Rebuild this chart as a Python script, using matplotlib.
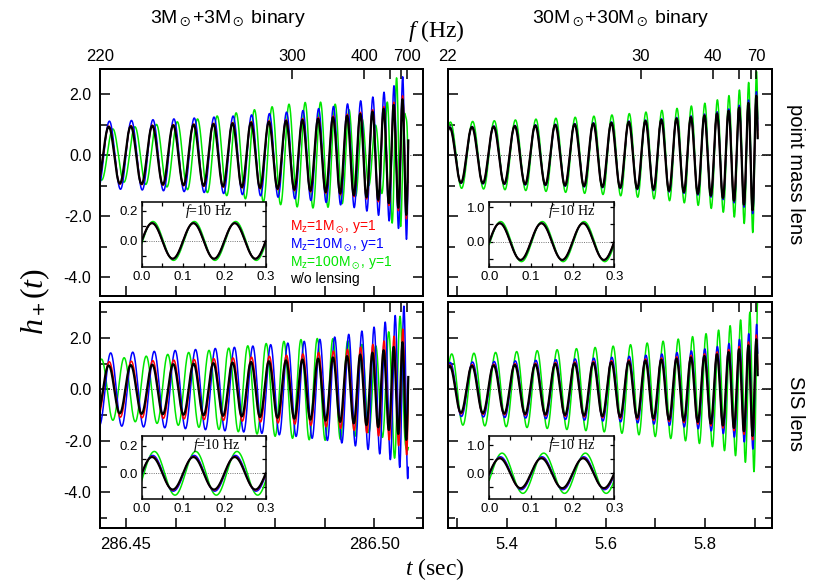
import math
import numpy as np
import matplotlib
matplotlib.use("Agg")
import matplotlib.pyplot as plt
from matplotlib.ticker import FixedLocator, MultipleLocator, NullFormatter, FormatStrFormatter, FixedFormatter

plt.rcParams.update({
    "font.family": ["Liberation Sans", "DejaVu Sans"],
    "mathtext.fontset": "custom",
    "mathtext.rm": "Liberation Sans",
    "mathtext.sf": "Liberation Sans",
    "mathtext.it": "Liberation Serif:italic",
    "mathtext.fallback": "stix",
    "axes.unicode_minus": True,
})

# ------------------------------------------------------------------ data
binary_titles = ["3M$_\\odot$+3M$_\\odot$ binary", "30M$_\\odot$+30M$_\\odot$ binary"]
lens_models = ["point mass", "SIS"]
lens_labels = ["point mass lens", "SIS lens"]
lens_masses = [1.0, 10.0, 100.0]          # redshifted lens mass M_z [Msun]
source_y = 1.0
series_colors = ["#ff0000", "#0000ff", "#00e600"]
legend_labels = ["M$_\\mathsf{z}$=1M$_\\odot$, y=1", "M$_\\mathsf{z}$=10M$_\\odot$, y=1",
                 "M$_\\mathsf{z}$=100M$_\\odot$, y=1", "w/o lensing"]
legend_colors = ["#ff0000", "#0000ff", "#00e600", "#000000"]

# chirp of each binary: GW frequency at the left edge, last frequency (ISCO),
# times of left edge / coalescence / right edge
f_left = [220.0, 22.0]
f_last = [733.0, 73.3]
t_left = [286.4447, 5.2810]
t_coal = [286.5086, 5.9236]
t_right = [286.5099, 5.9357]
amp_left = [0.92, 0.90]
phase_left_cycles = [0.60, 0.91]

freq_ticks = [[220, 300, 400, 500, 600, 700], [22, 30, 40, 50, 60, 70]]
freq_ticklabels = [["220", "300", "400", "", "", "700"], ["22", "30", "40", "", "", "70"]]
time_ticks = [[286.45, 286.46, 286.47, 286.48, 286.49, 286.50], [5.3, 5.4, 5.5, 5.6, 5.7, 5.8, 5.9]]
time_ticklabels = [["286.45", "", "", "", "", "286.50"], ["", "5.4", "", "5.6", "", "5.8", ""]]
main_ylims = [(-4.62, 2.81), (-5.39, 3.40)]

inset_freq = 10.0
inset_xlim = (0.0, 0.3)
inset_ylims = [[(-0.17, 0.259), (-0.73, 1.16)], [(-0.186, 0.272), (-0.92, 1.34)]]
inset_ymajor = [0.2, 1.0]
inset_yminor = [0.1, 0.5]

TSUN = 4.925491e-6  # G Msun / c^3 [s]

# ------------------------------------------------------------------ physics helpers
def cgamma(z):
    p = [0.99999999999980993, 676.5203681218851, -1259.1392167224028,
         771.32342877765313, -176.61502916214059, 12.507343278686905,
         -0.13857109526572012, 9.9843695780195716e-6, 1.5056327351493116e-7]
    z = np.asarray(z, dtype=complex) - 1
    x = p[0] + sum(p[i] / (z + i) for i in range(1, 9))
    t = z + 7.5
    return np.sqrt(2 * np.pi) * np.exp((z + 0.5) * np.log(t) - t) * x


def kummer1(a, z, nterms=180):
    a = np.asarray(a, complex)
    z = np.asarray(z, complex)
    term = np.ones(np.broadcast(a, z).shape, complex)
    s = term.copy()
    for k in range(nterms):
        term = term * (a + k) * z / ((k + 1) ** 2)
        s = s + term
    return s


def amplification(model, w, y):
    w = np.atleast_1d(np.asarray(w, float))
    if model == "point mass":
        return (np.exp(np.pi * w / 4 + 0.5j * w * np.log(w / 2)) * cgamma(1 - 0.5j * w)
                * kummer1(0.5j * w, 0.5j * w * y * y))
    z = -0.5j * w * y * y
    total = np.zeros(w.shape, complex)
    for n in range(110):
        logc = math.lgamma(1 + n / 2) - math.lgamma(n + 1)
        coef = np.exp(logc + 0.5 * n * np.log(2 * w)) * np.exp(-0.25j * np.pi * n)
        total = total + coef * kummer1(1 + n / 2, z)
    return np.exp(0.5j * w * y * y) * total


def f_of_t(t, c):
    r = (t_coal[c] - t) / (t_coal[c] - t_left[c])
    return f_left[c] * r ** (-1.0 / 3.0)


def t_of_f(f, c):
    return t_coal[c] - (t_coal[c] - t_left[c]) * (np.asarray(f, float) / f_left[c]) ** -3.0


def cycles(t, c):
    ct = t_coal[c] - t_left[c]
    r = (t_coal[c] - t) / ct
    return 1.5 * f_left[c] * ct * (1 - r ** (2.0 / 3.0))


# ------------------------------------------------------------------ layout
W, H = 830, 581
fig = plt.figure(figsize=(W / 100, H / 100), dpi=100)


def px_rect(x0, y0, x1, y1):
    return [x0 / W, 1 - y1 / H, (x1 - x0) / W, (y1 - y0) / H]


main_boxes = {(0, 0): (99.7, 69.3, 423.3, 296.0), (0, 1): (447.7, 69.3, 772.3, 296.0),
              (1, 0): (99.7, 301.7, 423.3, 528.3), (1, 1): (447.7, 301.7, 772.3, 528.3)}
inset_boxes = {(0, 0): (141.7, 201.7, 265.7, 266.7), (0, 1): (489.3, 201.7, 614.3, 266.7),
               (1, 0): (141.7, 435.7, 265.7, 499.0), (1, 1): (489.3, 435.7, 614.3, 499.0)}
inset_label_x = {(0, 0): 0.54, (0, 1): 0.66, (1, 0): 0.60, (1, 1): 0.66}

for r, model in enumerate(lens_models):
    for c in range(2):
        ax = fig.add_axes(px_rect(*main_boxes[(r, c)]))
        t = np.linspace(t_left[c], float(t_of_f(f_last[c], c)), 4000)
        f = f_of_t(t, c)
        A = amp_left[c] * (f / f_left[c]) ** (2.0 / 3.0)
        theta = 2 * np.pi * (cycles(t, c) + phase_left_cycles[c])
        for M, col in list(zip(lens_masses, series_colors))[::-1]:
            F = amplification(model, 8 * np.pi * M * TSUN * f, source_y)
            ax.plot(t, A * np.real(F * np.exp(1j * theta)), color=col, lw=1.1, zorder=2)
        ax.plot(t, A * np.cos(theta), color="k", lw=1.6, zorder=3)
        ax.axhline(0, color="#666666", lw=0.7, ls=(0, (1.2, 1.5)), zorder=1)

        ax.set_xlim(t_left[c], t_right[c])
        ax.set_ylim(*main_ylims[r])
        ax.xaxis.set_major_locator(FixedLocator(time_ticks[c]))
        if r == 1:
            ax.xaxis.set_major_formatter(FixedFormatter(time_ticklabels[c]))
        else:
            ax.xaxis.set_major_formatter(NullFormatter())
        ax.yaxis.set_major_locator(MultipleLocator(2.0))
        ax.yaxis.set_minor_locator(MultipleLocator(1.0))
        if c == 0:
            ax.yaxis.set_major_formatter(FormatStrFormatter("%.1f"))
        else:
            ax.yaxis.set_major_formatter(NullFormatter())
        ax.tick_params(axis="x", which="both", direction="in", top=False, bottom=True,
                       length=7.2, width=1.1, labelsize=12, pad=6)
        ax.tick_params(axis="y", which="major", direction="in", left=True, right=True,
                       length=7.2, width=1.1, labelsize=11.5, pad=6)
        ax.tick_params(axis="y", which="minor", direction="in", left=True, right=True,
                       length=4.8, width=1.1)
        for s in ax.spines.values():
            s.set_linewidth(1.4)

        tw = ax.twiny()
        tw.set_xlim(t_left[c], t_right[c])
        tw.xaxis.set_major_locator(FixedLocator(t_of_f(freq_ticks[c], c)))
        if r == 0:
            tw.xaxis.set_major_formatter(FixedFormatter(freq_ticklabels[c]))
        else:
            tw.xaxis.set_major_formatter(NullFormatter())
        tw.tick_params(axis="x", direction="in", length=7.2, width=1.1, labelsize=12, pad=4)
        for s in tw.spines.values():
            s.set_linewidth(1.4)

        # inset: monochromatic f = 10 Hz
        axi = fig.add_axes(px_rect(*inset_boxes[(r, c)]))
        axi.set_zorder(5)
        ti = np.linspace(inset_xlim[0], inset_xlim[1], 600)
        A10 = amp_left[c] * (inset_freq / f_left[c]) ** (2.0 / 3.0)
        th10 = 2 * np.pi * inset_freq * ti - np.pi / 2
        for M, col in list(zip(lens_masses, series_colors))[::-1]:
            F10 = amplification(model, 8 * np.pi * M * TSUN * inset_freq, source_y)[0]
            axi.plot(ti, A10 * np.real(F10 * np.exp(1j * th10)), color=col, lw=1.1)
        axi.plot(ti, A10 * np.cos(th10), color="k", lw=1.5)
        axi.axhline(0, color="#666666", lw=0.6, ls=(0, (1.2, 1.5)), zorder=0.5)
        axi.set_xlim(*inset_xlim)
        axi.set_ylim(*inset_ylims[r][c])
        axi.xaxis.set_major_locator(MultipleLocator(0.1))
        axi.xaxis.set_minor_locator(MultipleLocator(0.05))
        axi.xaxis.set_major_formatter(FormatStrFormatter("%.1f"))
        axi.yaxis.set_major_locator(MultipleLocator(inset_ymajor[c]))
        axi.yaxis.set_minor_locator(MultipleLocator(inset_yminor[c]))
        axi.yaxis.set_major_formatter(FormatStrFormatter("%.1f"))
        axi.tick_params(which="both", direction="in", top=True, right=True, length=3,
                        width=0.9, labelsize=9.5, pad=3)
        for s in axi.spines.values():
            s.set_linewidth(1.1)
        axi.text(inset_label_x[(r, c)], 0.795, "$f$=10 Hz", transform=axi.transAxes,
                 ha="center", va="baseline", fontsize=10, family="Liberation Serif")


def ftext(x, y, s, **kw):
    fig.text(x / W, 1 - y / H, s, **kw)


ftext(227.5, 23.3, binary_titles[0], ha="center", va="baseline", fontsize=14)
ftext(621.0, 23.3, binary_titles[1], ha="center", va="baseline", fontsize=14)
ftext(436, 37, "$f$ (Hz)", ha="center", va="baseline", fontsize=17, family="Liberation Serif")
ftext(435, 575, "$t$ (sec)", ha="center", va="baseline", fontsize=17, family="Liberation Serif")
ftext(35, 301, "$h_+$($t$)", ha="center", va="center", rotation=90, rotation_mode="anchor",
      fontsize=23, family="Liberation Serif")
ftext(795, 174, lens_labels[0], ha="center", va="center", rotation=-90, fontsize=14.5)
ftext(795, 413.5, lens_labels[1], ha="center", va="center", rotation=-90, fontsize=14.5)

for i, (lab, col) in enumerate(zip(legend_labels, legend_colors)):
    ftext(290, 230 + 17.8 * i, lab, ha="left", va="baseline", fontsize=10, color=col)

fig.savefig("out.png", dpi=100)
